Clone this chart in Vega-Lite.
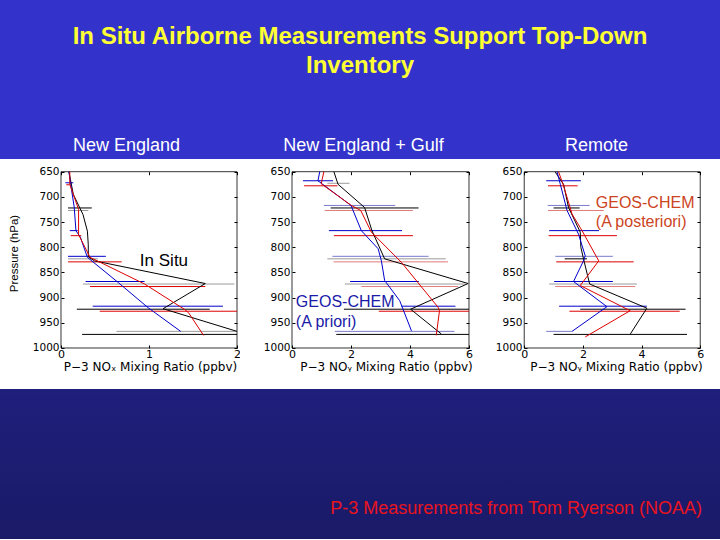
{
  "$schema": "https://vega.github.io/schema/vega-lite/v6.json",
  "background": "#3333cc",
  "padding": {"top": 25, "left": 0, "right": 0, "bottom": 0},
  "spacing": 0,
  "title": {
    "text": ["In Situ Airborne Measurements Support Top-Down", "Inventory"],
    "color": "#ffff33", "font": "Liberation Sans", "fontSize": 24, "fontWeight": "bold",
    "lineHeight": 29, "anchor": "middle", "offset": 59
  },
  "datasets": {
    "lines": [
      {"panel": "NE", "series": "In Situ", "p": 650, "v": 0.09},
      {"panel": "NE", "series": "In Situ", "p": 695, "v": 0.14},
      {"panel": "NE", "series": "In Situ", "p": 735, "v": 0.25},
      {"panel": "NE", "series": "In Situ", "p": 768, "v": 0.30},
      {"panel": "NE", "series": "In Situ", "p": 795, "v": 0.31},
      {"panel": "NE", "series": "In Situ", "p": 819, "v": 0.31},
      {"panel": "NE", "series": "In Situ", "p": 827, "v": 0.38},
      {"panel": "NE", "series": "In Situ", "p": 872, "v": 1.64},
      {"panel": "NE", "series": "In Situ", "p": 922, "v": 1.16},
      {"panel": "NE", "series": "In Situ", "p": 967, "v": 2.0},
      {"panel": "NE", "series": "A priori", "p": 650, "v": 0.09},
      {"panel": "NE", "series": "A priori", "p": 675, "v": 0.11},
      {"panel": "NE", "series": "A priori", "p": 720, "v": 0.15},
      {"panel": "NE", "series": "A priori", "p": 767, "v": 0.17},
      {"panel": "NE", "series": "A priori", "p": 780, "v": 0.22},
      {"panel": "NE", "series": "A priori", "p": 820, "v": 0.30},
      {"panel": "NE", "series": "A priori", "p": 870, "v": 0.65},
      {"panel": "NE", "series": "A priori", "p": 920, "v": 0.99},
      {"panel": "NE", "series": "A priori", "p": 967, "v": 1.36},
      {"panel": "NE", "series": "A posteriori", "p": 650, "v": 0.10},
      {"panel": "NE", "series": "A posteriori", "p": 675, "v": 0.10},
      {"panel": "NE", "series": "A posteriori", "p": 725, "v": 0.20},
      {"panel": "NE", "series": "A posteriori", "p": 775, "v": 0.20},
      {"panel": "NE", "series": "A posteriori", "p": 820, "v": 0.33},
      {"panel": "NE", "series": "A posteriori", "p": 873, "v": 0.95},
      {"panel": "NE", "series": "A posteriori", "p": 923, "v": 1.40},
      {"panel": "NE", "series": "A posteriori", "p": 930, "v": 1.45},
      {"panel": "NE", "series": "A posteriori", "p": 975, "v": 1.62},
      {"panel": "NEG", "series": "In Situ", "p": 650, "v": 1.42},
      {"panel": "NEG", "series": "In Situ", "p": 675, "v": 1.56},
      {"panel": "NEG", "series": "In Situ", "p": 721, "v": 2.46},
      {"panel": "NEG", "series": "In Situ", "p": 767, "v": 2.71},
      {"panel": "NEG", "series": "In Situ", "p": 823, "v": 3.14},
      {"panel": "NEG", "series": "In Situ", "p": 872, "v": 5.97},
      {"panel": "NEG", "series": "In Situ", "p": 923, "v": 4.02},
      {"panel": "NEG", "series": "In Situ", "p": 972, "v": 5.06},
      {"panel": "NEG", "series": "A priori", "p": 650, "v": 0.94},
      {"panel": "NEG", "series": "A priori", "p": 668, "v": 0.88},
      {"panel": "NEG", "series": "A priori", "p": 717, "v": 2.0},
      {"panel": "NEG", "series": "A priori", "p": 767, "v": 2.35},
      {"panel": "NEG", "series": "A priori", "p": 803, "v": 2.92},
      {"panel": "NEG", "series": "A priori", "p": 827, "v": 3.03},
      {"panel": "NEG", "series": "A priori", "p": 866, "v": 3.14},
      {"panel": "NEG", "series": "A priori", "p": 906, "v": 3.65},
      {"panel": "NEG", "series": "A priori", "p": 966, "v": 4.05},
      {"panel": "NEG", "series": "A posteriori", "p": 650, "v": 1.08},
      {"panel": "NEG", "series": "A posteriori", "p": 674, "v": 0.99},
      {"panel": "NEG", "series": "A posteriori", "p": 717, "v": 2.01},
      {"panel": "NEG", "series": "A posteriori", "p": 727, "v": 2.33},
      {"panel": "NEG", "series": "A posteriori", "p": 770, "v": 2.69},
      {"panel": "NEG", "series": "A posteriori", "p": 830, "v": 3.71},
      {"panel": "NEG", "series": "A posteriori", "p": 919, "v": 4.95},
      {"panel": "NEG", "series": "A posteriori", "p": 926, "v": 5.0},
      {"panel": "NEG", "series": "A posteriori", "p": 975, "v": 4.89},
      {"panel": "R", "series": "In Situ", "p": 650, "v": 1.05},
      {"panel": "R", "series": "In Situ", "p": 675, "v": 1.34},
      {"panel": "R", "series": "In Situ", "p": 721, "v": 1.51},
      {"panel": "R", "series": "In Situ", "p": 770, "v": 1.91},
      {"panel": "R", "series": "In Situ", "p": 800, "v": 1.93},
      {"panel": "R", "series": "In Situ", "p": 823, "v": 2.02},
      {"panel": "R", "series": "In Situ", "p": 873, "v": 2.23},
      {"panel": "R", "series": "In Situ", "p": 921, "v": 4.18},
      {"panel": "R", "series": "In Situ", "p": 972, "v": 3.62},
      {"panel": "R", "series": "A priori", "p": 650, "v": 1.12},
      {"panel": "R", "series": "A priori", "p": 675, "v": 1.23},
      {"panel": "R", "series": "A priori", "p": 727, "v": 1.46},
      {"panel": "R", "series": "A priori", "p": 774, "v": 1.85},
      {"panel": "R", "series": "A priori", "p": 817, "v": 2.08},
      {"panel": "R", "series": "A priori", "p": 827, "v": 2.02},
      {"panel": "R", "series": "A priori", "p": 868, "v": 1.68},
      {"panel": "R", "series": "A priori", "p": 918, "v": 2.82},
      {"panel": "R", "series": "A priori", "p": 967, "v": 1.63},
      {"panel": "R", "series": "A posteriori", "p": 650, "v": 1.17},
      {"panel": "R", "series": "A posteriori", "p": 678, "v": 1.34},
      {"panel": "R", "series": "A posteriori", "p": 734, "v": 1.63},
      {"panel": "R", "series": "A posteriori", "p": 767, "v": 1.97},
      {"panel": "R", "series": "A posteriori", "p": 827, "v": 2.54},
      {"panel": "R", "series": "A posteriori", "p": 876, "v": 1.91},
      {"panel": "R", "series": "A posteriori", "p": 926, "v": 3.61},
      {"panel": "R", "series": "A posteriori", "p": 978, "v": 2.08}
    ],
    "bars": [
      {"panel": "NE", "series": "A priori", "p": 672, "lo": 0.05, "hi": 0.14},
      {"panel": "NE", "series": "A posteriori", "p": 676, "lo": 0.06, "hi": 0.10},
      {"panel": "NE", "series": "In Situ", "p": 722, "lo": 0.08, "hi": 0.35},
      {"panel": "NE", "series": "In Situ range", "p": 727, "lo": 0.08, "hi": 0.31},
      {"panel": "NE", "series": "A priori", "p": 767, "lo": 0.10, "hi": 0.19},
      {"panel": "NE", "series": "A posteriori", "p": 777, "lo": 0.11, "hi": 0.23},
      {"panel": "NE", "series": "A priori", "p": 818, "lo": 0.08, "hi": 0.51},
      {"panel": "NE", "series": "In Situ range", "p": 823, "lo": 0.08, "hi": 0.42},
      {"panel": "NE", "series": "A posteriori", "p": 829, "lo": 0.08, "hi": 0.69},
      {"panel": "NE", "series": "A priori", "p": 868, "lo": 0.28, "hi": 0.95},
      {"panel": "NE", "series": "In Situ range", "p": 873, "lo": 0.25, "hi": 1.97},
      {"panel": "NE", "series": "A posteriori", "p": 878, "lo": 0.33, "hi": 1.64},
      {"panel": "NE", "series": "A priori", "p": 917, "lo": 0.36, "hi": 1.84},
      {"panel": "NE", "series": "In Situ", "p": 923, "lo": 0.18, "hi": 1.69},
      {"panel": "NE", "series": "A posteriori", "p": 927, "lo": 0.44, "hi": 2.0},
      {"panel": "NE", "series": "In Situ range", "p": 967, "lo": 0.63, "hi": 2.0},
      {"panel": "NE", "series": "In Situ", "p": 973, "lo": 0.24, "hi": 2.0},
      {"panel": "NEG", "series": "A priori", "p": 668, "lo": 0.37, "hi": 1.39},
      {"panel": "NEG", "series": "In Situ range", "p": 673, "lo": 1.2, "hi": 1.95},
      {"panel": "NEG", "series": "A posteriori", "p": 678, "lo": 0.41, "hi": 1.54},
      {"panel": "NEG", "series": "A priori range", "p": 717, "lo": 1.08, "hi": 3.5},
      {"panel": "NEG", "series": "In Situ", "p": 722, "lo": 1.31, "hi": 4.29},
      {"panel": "NEG", "series": "A posteriori range", "p": 727, "lo": 1.11, "hi": 4.1},
      {"panel": "NEG", "series": "A priori", "p": 767, "lo": 1.25, "hi": 3.73},
      {"panel": "NEG", "series": "A posteriori", "p": 777, "lo": 1.42, "hi": 4.1},
      {"panel": "NEG", "series": "A priori range", "p": 818, "lo": 1.37, "hi": 4.63},
      {"panel": "NEG", "series": "In Situ range", "p": 823, "lo": 1.2, "hi": 5.21},
      {"panel": "NEG", "series": "A posteriori range", "p": 829, "lo": 1.41, "hi": 5.29},
      {"panel": "NEG", "series": "A priori", "p": 868, "lo": 1.97, "hi": 4.3},
      {"panel": "NEG", "series": "In Situ range", "p": 873, "lo": 1.79, "hi": 5.86},
      {"panel": "NEG", "series": "A posteriori range", "p": 878, "lo": 2.35, "hi": 5.63},
      {"panel": "NEG", "series": "A priori", "p": 917, "lo": 3.71, "hi": 5.54},
      {"panel": "NEG", "series": "In Situ", "p": 923, "lo": 1.76, "hi": 6.0},
      {"panel": "NEG", "series": "A posteriori", "p": 927, "lo": 2.94, "hi": 6.0},
      {"panel": "NEG", "series": "A priori range", "p": 967, "lo": 1.45, "hi": 5.51},
      {"panel": "NEG", "series": "In Situ", "p": 973, "lo": 1.5, "hi": 6.0},
      {"panel": "R", "series": "A priori", "p": 668, "lo": 0.75, "hi": 1.93},
      {"panel": "R", "series": "A posteriori", "p": 678, "lo": 0.81, "hi": 1.82},
      {"panel": "R", "series": "A priori range", "p": 717, "lo": 0.8, "hi": 2.23},
      {"panel": "R", "series": "In Situ", "p": 722, "lo": 1.0, "hi": 1.89},
      {"panel": "R", "series": "A posteriori range", "p": 727, "lo": 0.81, "hi": 2.71},
      {"panel": "R", "series": "A priori", "p": 767, "lo": 0.85, "hi": 2.55},
      {"panel": "R", "series": "A posteriori", "p": 777, "lo": 0.83, "hi": 3.16},
      {"panel": "R", "series": "A priori range", "p": 818, "lo": 1.06, "hi": 3.02},
      {"panel": "R", "series": "In Situ", "p": 823, "lo": 1.38, "hi": 2.14},
      {"panel": "R", "series": "A posteriori", "p": 829, "lo": 1.09, "hi": 3.73},
      {"panel": "R", "series": "A priori", "p": 868, "lo": 1.02, "hi": 3.02},
      {"panel": "R", "series": "In Situ range", "p": 873, "lo": 0.85, "hi": 3.84},
      {"panel": "R", "series": "A posteriori range", "p": 878, "lo": 1.06, "hi": 3.78},
      {"panel": "R", "series": "A priori", "p": 917, "lo": 1.19, "hi": 4.18},
      {"panel": "R", "series": "In Situ", "p": 923, "lo": 1.91, "hi": 5.5},
      {"panel": "R", "series": "A posteriori", "p": 927, "lo": 1.54, "hi": 5.3},
      {"panel": "R", "series": "A priori range", "p": 967, "lo": 0.75, "hi": 1.63},
      {"panel": "R", "series": "In Situ", "p": 973, "lo": 1.0, "hi": 5.55}
    ]
  },
  "vconcat": [
    {
      "spacing": 0,
      "bounds": "flush",
      "hconcat": [
        {
          "width": 240, "height": 230,
          "title": {"text": "New England", "color": "white", "font": "Liberation Sans", "fontSize": 18, "fontWeight": "normal", "offset": 4, "dx": 6.5},
          "resolve": {"axis": {"x": "independent", "y": "independent"}},
          "layer": [
            {
              "data": {"values": [{}]},
              "mark": {"type": "rect", "fill": null, "fillOpacity": 0, "stroke": "black", "strokeWidth": 0.8},
              "encoding": {
                "x": {"datum": 0, "type": "quantitative", "scale": {"domain": [-0.693, 2.034], "nice": false, "zero": false},
                      "axis": {"values": [0, 1, 2], "format": "d", "labelOverlap": false, "offset": -41, "domain": false, "tickSize": -3, "labelPadding": 3, "title": "P−3 NOₓ Mixing Ratio (ppbv)", "titleX": 150, "titleY": 22, "titleBaseline": "alphabetic", "titleAnchor": null}},
                "x2": {"datum": 2},
                "y": {"datum": 650, "type": "quantitative", "scale": {"domain": [624.8, 1081.4], "nice": false, "zero": false, "reverse": true},
                      "axis": {"values": [650, 700, 750, 800, 850, 900, 950, 1000], "format": "d", "labelOverlap": false, "offset": -61, "domain": false, "tickSize": -3, "labelPadding": 5, "labelFontSize": 10.5, "title": "Pressure (hPa)", "titleX": -47, "titleY": 94, "titleAngle": -90, "titleAlign": "center", "titleBaseline": "middle", "titleFont": "Liberation Sans", "titleFontSize": 11.5}},
                "y2": {"datum": 1000}
              }
            },
            {
              "data": {"values": [{}]},
              "mark": {"type": "rect", "fill": null, "fillOpacity": 0, "stroke": null},
              "encoding": {
                "x": {"datum": 0, "type": "quantitative", "scale": {"domain": [-0.693, 2.034], "nice": false, "zero": false},
                      "axis": {"orient": "top", "values": [0, 1, 2], "labels": false, "offset": -12.7, "domain": false, "tickSize": -3, "title": null}},
                "x2": {"datum": 2},
                "y": {"datum": 650, "type": "quantitative", "scale": {"domain": [624.8, 1081.4], "nice": false, "zero": false, "reverse": true},
                      "axis": {"orient": "right", "values": [650, 700, 750, 800, 850, 900, 950, 1000], "labels": false, "offset": -3, "domain": false, "tickSize": -3, "title": null}},
                "y2": {"datum": 1000}
              }
            },
            {
              "data": {"name": "bars"},
              "transform": [{"filter": "datum.panel === 'NE'"}],
              "mark": {"type": "rule", "strokeWidth": 1},
              "encoding": {
                "x": {"field": "lo", "type": "quantitative", "axis": null, "scale": {"domain": [-0.693, 2.034], "nice": false, "zero": false}},
                "x2": {"field": "hi"},
                "y": {"field": "p", "type": "quantitative", "axis": null, "scale": {"domain": [624.8, 1081.4], "nice": false, "zero": false, "reverse": true}},
                "color": {"field": "series", "type": "nominal", "legend": null,
                  "scale": {"domain": ["In Situ", "A priori", "A posteriori", "In Situ range", "A priori range", "A posteriori range"], "range": ["#000000", "#0000cc", "#dd0000", "#9a9a9a", "#7a7acc", "#e07a7a"]}}
              }
            },
            {
              "data": {"name": "lines"},
              "transform": [{"filter": "datum.panel === 'NE'"}],
              "mark": {"type": "line", "strokeWidth": 1},
              "encoding": {
                "x": {"field": "v", "type": "quantitative", "axis": null, "scale": {"domain": [-0.693, 2.034], "nice": false, "zero": false}},
                "y": {"field": "p", "type": "quantitative", "axis": null, "scale": {"domain": [624.8, 1081.4], "nice": false, "zero": false, "reverse": true}},
                "order": {"field": "p", "type": "quantitative"},
                "color": {"field": "series", "type": "nominal", "legend": null,
                  "scale": {"domain": ["In Situ", "A priori", "A posteriori", "In Situ range", "A priori range", "A posteriori range"], "range": ["#000000", "#0000cc", "#dd0000", "#9a9a9a", "#7a7acc", "#e07a7a"]}}
              }
            },
            {
              "data": {"values": [{}]},
              "mark": {"type": "text", "font": "Liberation Sans", "fontSize": 17, "color": "black", "align": "center", "baseline": "middle"},
              "encoding": {
                "x": {"datum": 1.17, "type": "quantitative", "axis": null},
                "y": {"datum": 828, "type": "quantitative", "axis": null},
                "text": {"value": "In Situ"}
              }
            }
          ]
        },
        {
          "width": 240, "height": 230,
          "title": {"text": "New England + Gulf", "color": "white", "font": "Liberation Sans", "fontSize": 18, "fontWeight": "normal", "offset": 4, "dx": 3.5},
          "resolve": {"axis": {"x": "independent", "y": "independent"}},
          "layer": [
            {
              "data": {"values": [{}]},
              "mark": {"type": "rect", "fill": null, "fillOpacity": 0, "stroke": "black", "strokeWidth": 0.8},
              "encoding": {
                "x": {"datum": 0, "type": "quantitative", "scale": {"domain": [-1.763, 6.373], "nice": false, "zero": false},
                      "axis": {"values": [0, 2, 4, 6], "format": "d", "labelOverlap": false, "offset": -41, "domain": false, "tickSize": -3, "labelPadding": 3, "title": "P−3 NOᵧ Mixing Ratio (ppbv)", "titleX": 146, "titleY": 22, "titleBaseline": "alphabetic", "titleAnchor": null}},
                "x2": {"datum": 6},
                "y": {"datum": 650, "type": "quantitative", "scale": {"domain": [624.8, 1081.4], "nice": false, "zero": false, "reverse": true},
                      "axis": {"values": [650, 700, 750, 800, 850, 900, 950, 1000], "format": "d", "labelOverlap": false, "offset": -52, "domain": false, "tickSize": -3, "labelPadding": 5, "labelFontSize": 10.5, "title": null}},
                "y2": {"datum": 1000}
              }
            },
            {
              "data": {"values": [{}]},
              "mark": {"type": "rect", "fill": null, "fillOpacity": 0, "stroke": null},
              "encoding": {
                "x": {"datum": 0, "type": "quantitative", "scale": {"domain": [-1.763, 6.373], "nice": false, "zero": false},
                      "axis": {"orient": "top", "values": [0, 2, 4, 6], "labels": false, "offset": -12.7, "domain": false, "tickSize": -3, "title": null}},
                "x2": {"datum": 6},
                "y": {"datum": 650, "type": "quantitative", "scale": {"domain": [624.8, 1081.4], "nice": false, "zero": false, "reverse": true},
                      "axis": {"orient": "right", "values": [650, 700, 750, 800, 850, 900, 950, 1000], "labels": false, "offset": -11, "domain": false, "tickSize": -3, "title": null}},
                "y2": {"datum": 1000}
              }
            },
            {
              "data": {"name": "bars"},
              "transform": [{"filter": "datum.panel === 'NEG'"}],
              "mark": {"type": "rule", "strokeWidth": 1},
              "encoding": {
                "x": {"field": "lo", "type": "quantitative", "axis": null, "scale": {"domain": [-1.763, 6.373], "nice": false, "zero": false}},
                "x2": {"field": "hi"},
                "y": {"field": "p", "type": "quantitative", "axis": null, "scale": {"domain": [624.8, 1081.4], "nice": false, "zero": false, "reverse": true}},
                "color": {"field": "series", "type": "nominal", "legend": null,
                  "scale": {"domain": ["In Situ", "A priori", "A posteriori", "In Situ range", "A priori range", "A posteriori range"], "range": ["#000000", "#0000cc", "#dd0000", "#9a9a9a", "#7a7acc", "#e07a7a"]}}
              }
            },
            {
              "data": {"name": "lines"},
              "transform": [{"filter": "datum.panel === 'NEG'"}],
              "mark": {"type": "line", "strokeWidth": 1},
              "encoding": {
                "x": {"field": "v", "type": "quantitative", "axis": null, "scale": {"domain": [-1.763, 6.373], "nice": false, "zero": false}},
                "y": {"field": "p", "type": "quantitative", "axis": null, "scale": {"domain": [624.8, 1081.4], "nice": false, "zero": false, "reverse": true}},
                "order": {"field": "p", "type": "quantitative"},
                "color": {"field": "series", "type": "nominal", "legend": null,
                  "scale": {"domain": ["In Situ", "A priori", "A posteriori", "In Situ range", "A priori range", "A posteriori range"], "range": ["#000000", "#0000cc", "#dd0000", "#9a9a9a", "#7a7acc", "#e07a7a"]}}
              }
            },
            {
              "data": {"values": [{}]},
              "mark": {"type": "text", "font": "Liberation Sans", "fontSize": 16, "color": "#1a1aa8", "align": "left", "baseline": "middle", "lineHeight": 20},
              "encoding": {
                "x": {"datum": 0.13, "type": "quantitative", "axis": null},
                "y": {"datum": 909, "type": "quantitative", "axis": null},
                "text": {"value": ["GEOS-CHEM", "(A priori)"]}
              }
            }
          ]
        },
        {
          "width": 240, "height": 230,
          "title": {"text": "Remote", "color": "white", "font": "Liberation Sans", "fontSize": 18, "fontWeight": "normal", "offset": 4, "dx": -3.5},
          "resolve": {"axis": {"x": "independent", "y": "independent"}},
          "layer": [
            {
              "data": {"values": [{}]},
              "mark": {"type": "rect", "fill": null, "fillOpacity": 0, "stroke": "black", "strokeWidth": 0.8},
              "encoding": {
                "x": {"datum": 0, "type": "quantitative", "scale": {"domain": [-1.508, 6.674], "nice": false, "zero": false},
                      "axis": {"values": [0, 2, 4, 6], "format": "d", "labelOverlap": false, "offset": -41, "domain": false, "tickSize": -3, "labelPadding": 3, "title": "P−3 NOᵧ Mixing Ratio (ppbv)", "titleX": 136, "titleY": 22, "titleBaseline": "alphabetic", "titleAnchor": null}},
                "x2": {"datum": 6},
                "y": {"datum": 650, "type": "quantitative", "scale": {"domain": [624.8, 1081.4], "nice": false, "zero": false, "reverse": true},
                      "axis": {"values": [650, 700, 750, 800, 850, 900, 950, 1000], "format": "d", "labelOverlap": false, "offset": -44, "domain": false, "tickSize": -3, "labelPadding": 5, "labelFontSize": 10.5, "title": null}},
                "y2": {"datum": 1000}
              }
            },
            {
              "data": {"values": [{}]},
              "mark": {"type": "rect", "fill": null, "fillOpacity": 0, "stroke": null},
              "encoding": {
                "x": {"datum": 0, "type": "quantitative", "scale": {"domain": [-1.508, 6.674], "nice": false, "zero": false},
                      "axis": {"orient": "top", "values": [0, 2, 4, 6], "labels": false, "offset": -12.7, "domain": false, "tickSize": -3, "title": null}},
                "x2": {"datum": 6},
                "y": {"datum": 650, "type": "quantitative", "scale": {"domain": [624.8, 1081.4], "nice": false, "zero": false, "reverse": true},
                      "axis": {"orient": "right", "values": [650, 700, 750, 800, 850, 900, 950, 1000], "labels": false, "offset": -20, "domain": false, "tickSize": -3, "title": null}},
                "y2": {"datum": 1000}
              }
            },
            {
              "data": {"name": "bars"},
              "transform": [{"filter": "datum.panel === 'R'"}],
              "mark": {"type": "rule", "strokeWidth": 1},
              "encoding": {
                "x": {"field": "lo", "type": "quantitative", "axis": null, "scale": {"domain": [-1.508, 6.674], "nice": false, "zero": false}},
                "x2": {"field": "hi"},
                "y": {"field": "p", "type": "quantitative", "axis": null, "scale": {"domain": [624.8, 1081.4], "nice": false, "zero": false, "reverse": true}},
                "color": {"field": "series", "type": "nominal", "legend": null,
                  "scale": {"domain": ["In Situ", "A priori", "A posteriori", "In Situ range", "A priori range", "A posteriori range"], "range": ["#000000", "#0000cc", "#dd0000", "#9a9a9a", "#7a7acc", "#e07a7a"]}}
              }
            },
            {
              "data": {"name": "lines"},
              "transform": [{"filter": "datum.panel === 'R'"}],
              "mark": {"type": "line", "strokeWidth": 1},
              "encoding": {
                "x": {"field": "v", "type": "quantitative", "axis": null, "scale": {"domain": [-1.508, 6.674], "nice": false, "zero": false}},
                "y": {"field": "p", "type": "quantitative", "axis": null, "scale": {"domain": [624.8, 1081.4], "nice": false, "zero": false, "reverse": true}},
                "order": {"field": "p", "type": "quantitative"},
                "color": {"field": "series", "type": "nominal", "legend": null,
                  "scale": {"domain": ["In Situ", "A priori", "A posteriori", "In Situ range", "A priori range", "A posteriori range"], "range": ["#000000", "#0000cc", "#dd0000", "#9a9a9a", "#7a7acc", "#e07a7a"]}}
              }
            },
            {
              "data": {"values": [{}]},
              "mark": {"type": "text", "font": "Liberation Sans", "fontSize": 16, "color": "#cc4422", "align": "left", "baseline": "middle", "lineHeight": 19},
              "encoding": {
                "x": {"datum": 2.44, "type": "quantitative", "axis": null},
                "y": {"datum": 712, "type": "quantitative", "axis": null},
                "text": {"value": ["GEOS-CHEM", "(A posteriori)"]}
              }
            }
          ]
        }
      ]
    },
    {
      "width": 720, "height": 150,
      "data": {"values": [{}]},
      "mark": {"type": "rect", "color": {"gradient": "linear", "x1": 0, "y1": 0, "x2": 0, "y2": 1, "stops": [{"offset": 0, "color": "#1f1f7c"}, {"offset": 1, "color": "#1a1a68"}]}},
      "encoding": {},
      "title": {"text": "P-3 Measurements from Tom Ryerson (NOAA)", "orient": "bottom", "anchor": "end", "color": "#e8141e", "font": "Liberation Sans", "fontSize": 18, "fontWeight": "normal", "offset": -39, "dx": -18}
    }
  ],
  "config": {
    "view": {"stroke": null, "fill": "white"},
    "concat": {"spacing": 0},
    "axis": {"grid": false, "labelFont": "DejaVu Sans", "labelFontSize": 11, "labelColor": "black", "tickColor": "black", "titleFont": "DejaVu Sans", "titleFontSize": 12, "titleFontWeight": "normal", "titleColor": "black", "labelFlush": false, "labelOverlap": false},
    "axisY": {"labelOverlap": false, "labelBound": false},
    "axisQuantitative": {"labelOverlap": false}
  }
}
